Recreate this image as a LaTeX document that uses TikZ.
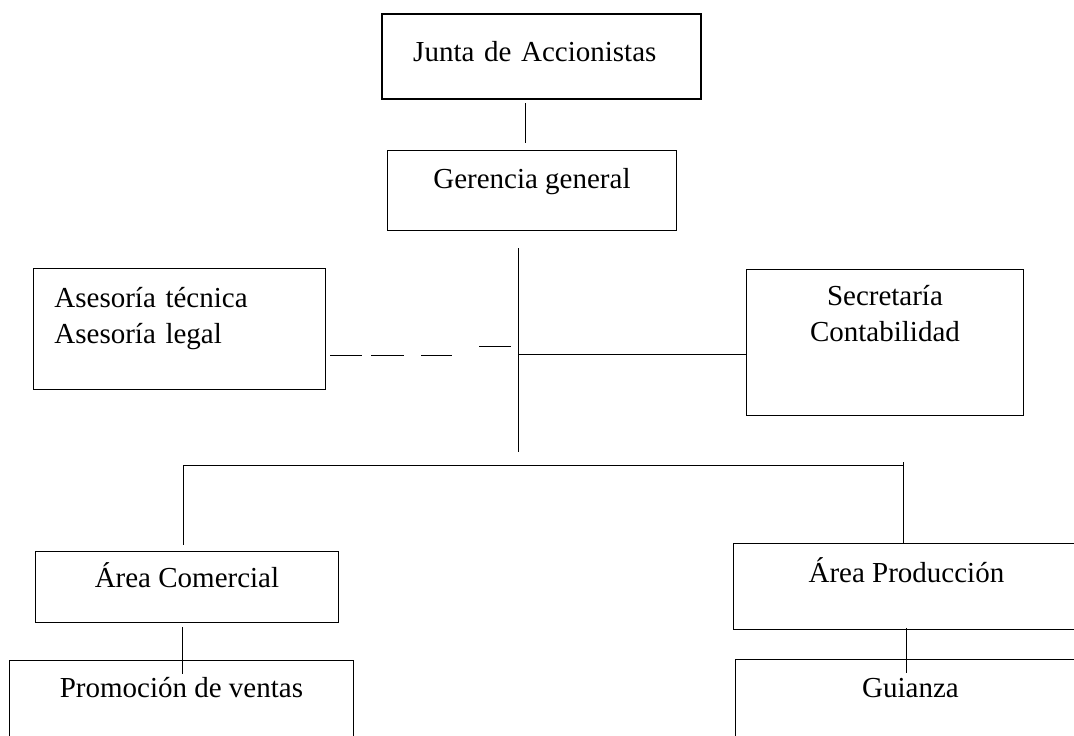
\documentclass[tikz,border=0pt]{standalone}
\usepackage{fontspec}
\setmainfont{Liberation Serif}
\usepackage{tikz}
\usetikzlibrary{
  calc,       % coordenadas
  positioning % posicion relativa
}
\tikzset{
  caja/.style={
    draw,
    line width=0.5pt,
    inner sep=0pt,
    align=center,
    anchor=north west,
    font=\fontsize{16.5}{20.5}\selectfont
  },
  caja gruesa/.style={
    caja,
    line width=1.4pt
  },
  linea/.style={
    line width=0.5pt
  }
}

\begin{document}
\begin{tikzpicture}[x=0.2mm, y=-0.2mm]
    \useasboundingbox (0,0) rectangle (1074,735);
    \clip (0,0) rectangle (1074,735);

    % --- direccion ---
    \node[caja gruesa, align=left, inner xsep=6.2mm, text width=51.4mm,
          text height=9.4mm, text depth=7.6mm] (junta) at (381,13) {Junta de Accionistas};
    \node[caja, minimum width=57.8mm, text height=7.6mm, text depth=8.4mm]
          (gerencia) at (387,150) {Gerencia general};

    % --- staff ---
    \node[caja, align=left, inner xsep=4.2mm, text width=50mm,
          text height=7.8mm, text depth=16.4mm] (asesoria) at (33,268)
          {Asesoría técnica\\Asesoría legal};
    \node[caja, text width=55.4mm, text height=7.2mm, text depth=22mm]
          (secretaria) at (746,269) {Secretaría\\Contabilidad};

    % --- areas ---
    \node[caja, minimum width=60.6mm, text height=7.2mm, text depth=7mm]
          (comercial) at (35,551) {Área Comercial};
    \node[caja, minimum width=69.2mm, text height=7.8mm, text depth=9.4mm]
          (produccion) at (733,543) {Área Producción};
    \node[caja, minimum width=68.8mm, text height=7.4mm, text depth=20mm]
          (promocion) at (9,660) {Promoción de ventas};
    \node[caja, minimum width=70mm, text height=7.6mm, text depth=20mm]
          (guianza) at (735,659) {Guianza};

    % --- lineas ---
    \draw[linea, shorten <=0.6mm, shorten >=1.4mm]
      ([xshift=-3.3mm]junta.south) -- ([xshift=-3.3mm]junta.south |- gerencia.north);

    \coordinate (tronco sup) at (518,248);
    \coordinate (tronco inf) at (518,452);
    \coordinate (cruce) at (518,354);
    \draw[linea] (tronco sup) -- (tronco inf);
    \draw[linea] (cruce) -- (cruce -| secretaria.west);

    % linea discontinua hacia la asesoria
    \foreach \a/\b/\h in {330/362/355, 371/404/355, 421/452/355, 479/511/346}
      \draw[linea] (\a,\h) -- (\b,\h);

    \coordinate (bus izq) at (183,465);
    \coordinate (bus der) at (903,465);
    \draw[linea] (bus izq) -- (bus der);
    \draw[linea, shorten >=1.2mm] (bus izq) -- (bus izq |- comercial.north);
    \draw[linea] ([yshift=0.6mm]bus der) -- (bus der |- produccion.north);

    \draw[linea] ([xshift=-0.9mm]comercial.south) ++(0,4) -- ++(0,47);
    \draw[linea] (produccion.south) ++(0,-2) -- ++(0,45);

  \end{tikzpicture}
\end{document}
